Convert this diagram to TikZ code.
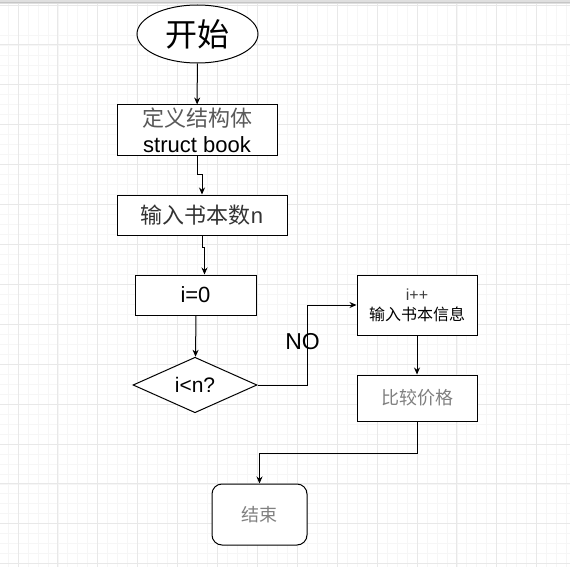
\documentclass[tikz,border=0pt]{standalone}
\usepackage{fontspec}
\setmainfont{Liberation Sans}
\newfontfamily\cjk{Noto Sans CJK SC}
\usetikzlibrary{shapes.geometric,arrows.meta}
\definecolor{gridmajor}{HTML}{E8E8E8}
\definecolor{gridminor}{HTML}{F6F6F6}
\definecolor{softtext}{HTML}{808080}
\tikzset{
  block/.style={draw,fill=white,line width=1pt,inner sep=0pt},
  arr/.style={line width=1pt,-{Stealth[length=7pt,width=6pt]}},
  fs/.style={font=\fontsize{#1}{#1}\selectfont}
}
\begin{document}
\begin{tikzpicture}[x=1pt,y=-1pt]
  \useasboundingbox (0,0) rectangle (570,567);
  \fill[white] (0,0) rectangle (570,567);
  % background grid
  \foreach \k in {-1,...,56} {
    \draw[gridminor,line width=.8pt] ({18+9.975*\k},0) -- ++(0,567);
    \draw[gridminor,line width=.8pt] (0,{45+9.975*\k}) -- ++(570,0);
  }
  \foreach \k in {-1,...,14} {
    \draw[gridmajor,line width=1pt] ({18+39.9*\k},0) -- ++(0,567);
    \draw[gridmajor,line width=1pt] (0,{45+39.9*\k}) -- ++(570,0);
  }
  \fill[gray!25] (0,0) rectangle (570,4);
  \draw[gray!45,line width=.8pt] (0,2) -- (570,2);

  \node[block,ellipse,minimum width=121,minimum height=58,fs=32] (start) at (197.5,34) {\cjk 开始};
  \node[block,minimum width=160,minimum height=50,align=center,font=\fontsize{22}{27}\selectfont] (def) at (197,130)
    {\textcolor{gray!70!black}{\cjk 定义结构体}\\[-1pt]struct book};
  \node[block,minimum width=170,minimum height=40,fs=22,text=black!80] (input) at (202,215) {{\cjk 输入书本数}n};
  \node[block,minimum width=121,minimum height=40,fs=22] (init) at (195.5,295) {i=0};
  \node[block,diamond,minimum width=124,minimum height=50,fs=21] (cond) at (195,385) {i<n?};
  \node[block,minimum width=120,minimum height=60,align=center,font=\fontsize{16}{20}\selectfont] (loop) at (417,305)
    {\textcolor{black!75}{i++}\\{\cjk 输入书本信息}};
  \node[block,minimum width=120,minimum height=46,fs=18,text=softtext] (calc) at (417,398) {\cjk 比较价格};
  \node[block,rounded corners=10pt,minimum width=95,minimum height=61,fs=18,text=softtext] (end) at (259.5,514.5) {\cjk 结束};

  \draw[arr] (start) -- (def);
  \draw[arr] (def.south) -- ++(0,19) -| (input.north);
  \draw[arr] (input.south) -- ++(0,12) -| ([xshift=9pt]init.north);
  \draw[arr] ([xshift=0.5pt]init.south) -- ([xshift=0.5pt]cond.north);
  \draw[arr] (cond.east) -- ++(50,0) |- node[pos=0.27,xshift=-5pt,fs=23] (no) {NO} (loop.west);
  \draw[arr] (loop) -- (calc);
  \draw[arr] (calc.south) -- ++(0,32) -| (end.north);
\end{tikzpicture}
\end{document}
